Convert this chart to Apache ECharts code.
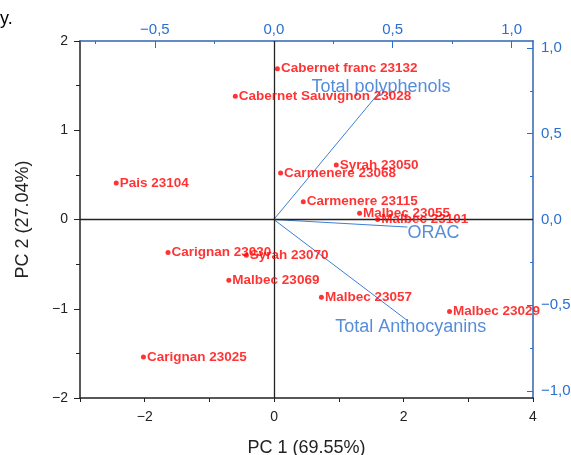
<!DOCTYPE html>
<html>
<head>
<meta charset="utf-8">
<script src="https://cdn.jsdelivr.net/npm/echarts@6/dist/echarts.min.js"></script>
<style>
  html, body { margin: 0; padding: 0; background: #fff; }
  #chart { width: 571px; height: 455px; }
</style>
</head>
<body>
<div id="chart"></div>
<script>
// scores (PC1 / PC2) for each wine sample
var sampleNames = ['Cabernet franc 23132', 'Cabernet Sauvignon 23028', 'Pais 23104', 'Carmenere 23068',
  'Syrah 23050', 'Carmenere 23115', 'Malbec 23055', 'Malbec 23101', 'Carignan 23030', 'Syrah 23070',
  'Malbec 23069', 'Carignan 23025', 'Malbec 23057', 'Malbec 23029'];
var pc1 = [0.05, -0.60, -2.44, 0.10, 0.96, 0.45, 1.32, 1.60, -1.64, -0.43, -0.70, -2.02, 0.73, 2.71];
var pc2 = [1.69, 1.38, 0.41, 0.52, 0.61, 0.20, 0.07, 0.00, -0.37, -0.40, -0.68, -1.54, -0.87, -1.03];

// loadings (top / right axes)
var loadingNames = ['Total polyphenols', 'ORAC', 'Total Anthocyanins'];
var loadX = [0.451, 0.562, 0.563];
var loadY = [0.753, -0.044, -0.59];

// tick values
var bottomLabels = [-2, 0, 2, 4];
var bottomTicks = [-3, -2, -1, 0, 1, 2, 3, 4];
var leftLabels = [-2, -1, 0, 1, 2];
var leftMinor = [-1.5, -0.5, 0.5, 1.5];
var topLabels = [-0.5, 0, 0.5, 1];
var topMinor = [-0.75, -0.25, 0.25, 0.75];
var rightLabels = [-1, -0.5, 0, 0.5, 1];
var rightMinor = [-0.75, -0.25, 0.25, 0.75];

var FONT = '"Liberation Sans", Arial, sans-serif';
var BLACK = '#222222';
var AXIS_BLUE = '#2f64b2';
var TEXT_BLUE = '#2a70d0';
var RED = '#ff0000';

function minus(v) { return String(v).replace('-', '\u2212'); }
function comma(v) { return v.toFixed(1).replace('.', ',').replace('-', '\u2212'); }

var chart = echarts.init(document.getElementById('chart'));

var option = {
  animation: false,
  grid: { left: 80, right: 38, top: 41, bottom: 57, containLabel: false, outerBoundsMode: 'none' },
  xAxis: [
    {
      type: 'value', position: 'bottom', min: -3, max: 4,
      name: 'PC 1 (69.55%)', nameLocation: 'middle', nameGap: 41,
      nameTextStyle: { fontFamily: FONT, fontSize: 18, color: BLACK },
      axisLine: { show: true, onZero: false, lineStyle: { color: BLACK, width: 1.5 } },
      axisTick: { show: true, inside: false, length: 4, customValues: bottomTicks, lineStyle: { color: BLACK } },
      axisLabel: { customValues: bottomLabels, margin: 12, fontFamily: FONT, fontSize: 14, color: BLACK, formatter: minus },
      splitLine: { show: false }
    },
    {
      type: 'value', position: 'top', min: -0.815, max: 1.09,
      axisLine: { show: true, onZero: false, lineStyle: { color: AXIS_BLUE, width: 1.5 } },
      axisTick: { show: true, inside: true, length: 7, customValues: topLabels, lineStyle: { color: TEXT_BLUE } },
      axisLabel: { customValues: topLabels, margin: 4, fontFamily: FONT, fontSize: 15, color: TEXT_BLUE, formatter: comma },
      splitLine: { show: false }
    },
    {
      type: 'value', position: 'top', min: -0.815, max: 1.09,
      axisLine: { show: false, onZero: false },
      axisTick: { show: true, inside: true, length: 3, customValues: topMinor, lineStyle: { color: TEXT_BLUE } },
      axisLabel: { show: false },
      splitLine: { show: false }
    }
  ],
  yAxis: [
    {
      type: 'value', position: 'left', min: -2, max: 2,
      name: 'PC 2 (27.04%)', nameLocation: 'middle', nameGap: 48,
      nameTextStyle: { fontFamily: FONT, fontSize: 18, color: BLACK },
      axisLine: { show: true, onZero: false, lineStyle: { color: BLACK, width: 1.5 } },
      axisTick: { show: true, inside: false, length: 6, customValues: leftLabels, lineStyle: { color: BLACK } },
      axisLabel: { customValues: leftLabels, margin: 12, fontFamily: FONT, fontSize: 14, color: BLACK, formatter: minus },
      splitLine: { show: false }
    },
    {
      type: 'value', position: 'right', min: -1.04, max: 1.04,
      axisLine: { show: true, onZero: false, lineStyle: { color: AXIS_BLUE, width: 1.5 } },
      axisTick: { show: true, inside: true, length: 6, customValues: rightLabels, lineStyle: { color: TEXT_BLUE } },
      axisLabel: { customValues: rightLabels, margin: 8, fontFamily: FONT, fontSize: 15, color: TEXT_BLUE, formatter: comma },
      splitLine: { show: false }
    },
    {
      type: 'value', position: 'left', min: -2, max: 2,
      axisLine: { show: false, onZero: false },
      axisTick: { show: true, inside: false, length: 4, customValues: leftMinor, lineStyle: { color: BLACK } },
      axisLabel: { show: false },
      splitLine: { show: false }
    },
    {
      type: 'value', position: 'right', min: -1.04, max: 1.04,
      axisLine: { show: false, onZero: false },
      axisTick: { show: true, inside: true, length: 3, customValues: rightMinor, lineStyle: { color: TEXT_BLUE } },
      axisLabel: { show: false },
      splitLine: { show: false }
    }
  ],
  graphic: [
    { type: 'text', left: 0, top: 10, style: { text: 'y.', fontFamily: FONT, fontSize: 18, fill: '#000' } }
  ],
  series: []
};

// loading vectors
loadingNames.forEach(function (name, i) {
  option.series.push({
    type: 'line', xAxisIndex: 1, yAxisIndex: 1,
    data: [[0, 0], [loadX[i], loadY[i]]],
    showSymbol: false, silent: true,
    lineStyle: { color: '#3a7fd8', width: 1 },
    z: 3
  });
});

// loading labels
var loadLabelStyles = [
  { position: 'inside', offset: [0, -3] },
  { position: 'right', distance: 0, offset: [0, 6] },
  { position: 'inside', offset: [3, 6] }
];
option.series.push({
  type: 'scatter', xAxisIndex: 1, yAxisIndex: 1, symbolSize: 0, silent: true, z: 4,
  data: loadingNames.map(function (name, i) {
    return {
      name: name, value: [loadX[i], loadY[i]],
      label: echarts.util.extend({ show: true, formatter: '{b}', fontFamily: FONT, fontSize: 18, color: TEXT_BLUE }, loadLabelStyles[i])
    };
  })
});

// scores with zero lines
option.series.push({
  type: 'scatter', xAxisIndex: 0, yAxisIndex: 0, symbol: 'circle', symbolSize: 5, z: 5,
  itemStyle: { color: RED },
  label: {
    show: true, position: 'right', distance: 1, formatter: '{b}',
    fontFamily: FONT, fontSize: 13.5, fontWeight: 'bold', color: RED
  },
  data: sampleNames.map(function (name, i) { return { name: name, value: [pc1[i], pc2[i]] }; }),
  markLine: {
    silent: true, symbol: 'none', label: { show: false },
    lineStyle: { color: BLACK, width: 1.3, type: 'solid' },
    data: [{ xAxis: 0 }, { yAxis: 0 }]
  }
});

chart.setOption(option);
</script>
</body>
</html>
